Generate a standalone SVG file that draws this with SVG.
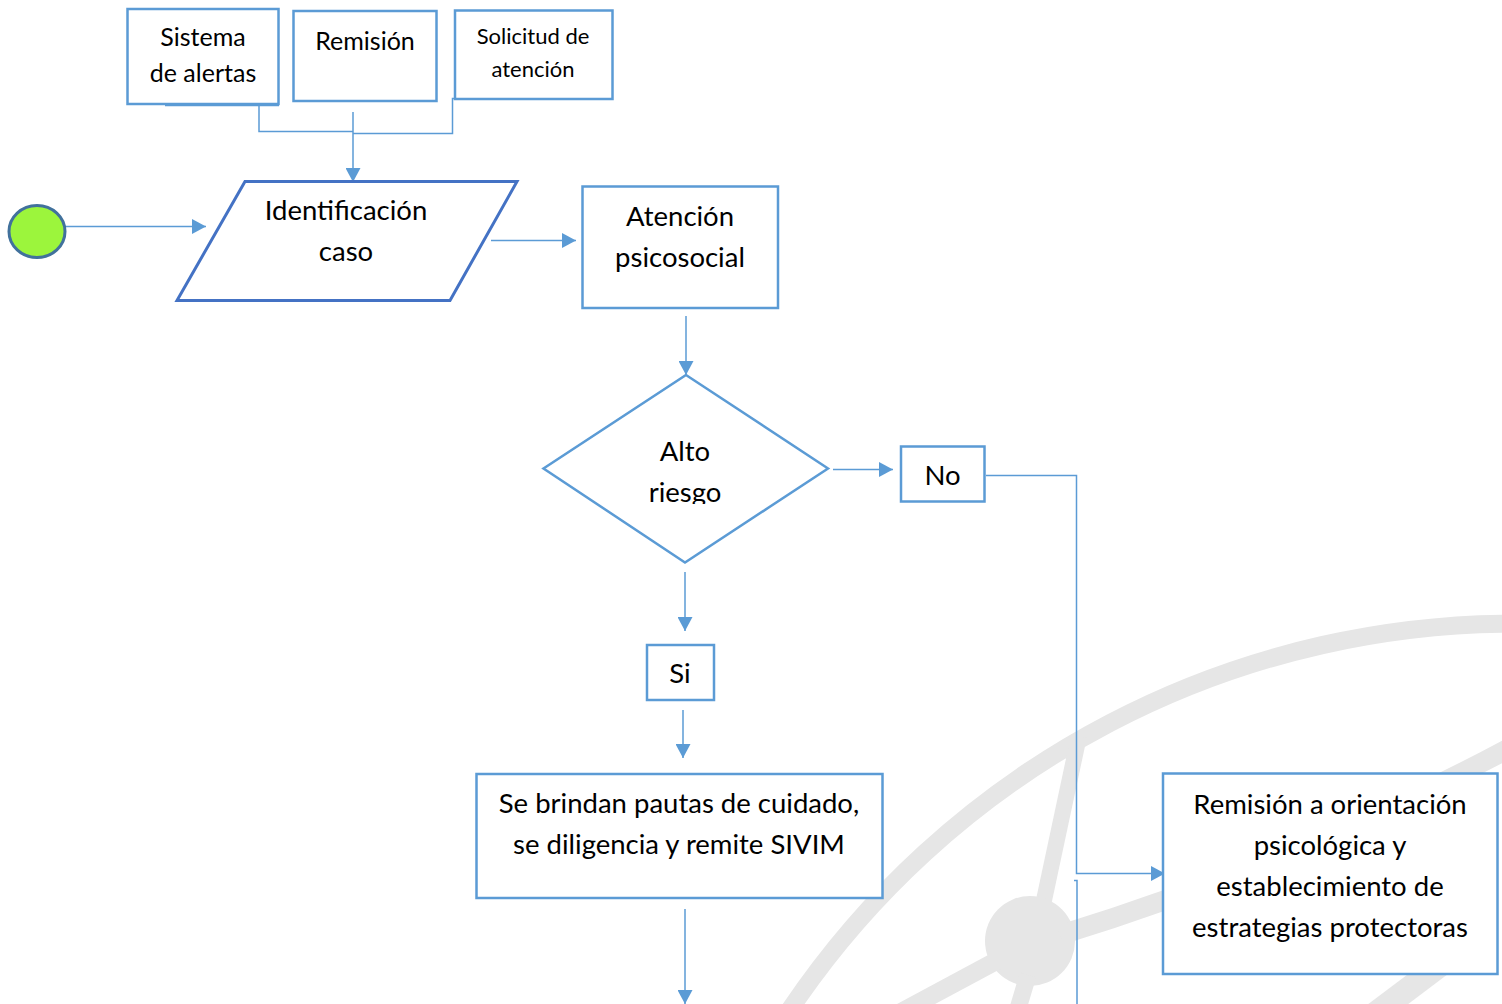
<svg xmlns="http://www.w3.org/2000/svg" width="1502" height="1004" viewBox="0 0 1502 1004">
<style>
.box{fill:#fff;stroke:#5b9bd5;stroke-width:2.5}
.conn{fill:none;stroke:#5b9bd5;stroke-width:1.5}
.wm{fill:none;stroke:#e6e6e6;stroke-linecap:butt}
.t{font-family:Lato,"Liberation Sans",sans-serif;fill:#000;text-anchor:middle}
.s26{font-size:25px}
.s24{font-size:22px}
.s29{font-size:27.5px}
</style>
<defs>
<marker id="ah" markerUnits="userSpaceOnUse" markerWidth="15" markerHeight="15" viewBox="0 0 14 15" refX="14" refY="7.5" orient="auto">
<path d="M0,0 L14,7.5 L0,15 Z" fill="#5b9bd5"/>
</marker>
<clipPath id="dclip"><rect x="540" y="370" width="300" height="134"/></clipPath>
</defs>
<rect x="0" y="0" width="1502" height="1004" fill="#fff"/>
<g id="watermark">
<path class="wm" stroke-width="18" d="M783,1020 A873.5,873.5 0 0 1 1540,624"/>
<line class="wm" stroke-width="16" x1="1079" y1="736" x2="1043" y2="905"/>
<circle cx="1030" cy="941" r="45" fill="#e6e6e6"/>
<path class="wm" stroke-width="20" d="M1060,935 Q1300,861 1515,745"/>
<line class="wm" stroke-width="18" x1="998" y1="960" x2="890" y2="1018"/>
<line class="wm" stroke-width="17" x1="1028" y1="975" x2="1017" y2="1012"/>
<line class="wm" stroke-width="24" x1="1375" y1="1014" x2="1460" y2="950"/>
</g>
<g id="connectors">
<path class="conn" d="M165,105.5 H279"/>
<path class="conn" d="M259,106 V131.5 H353"/>
<path class="conn" d="M553,98.5 H452.5 V133.5 H353"/>
<path class="conn" d="M353,112 V182" marker-end="url(#ah)"/>
<path class="conn" d="M66,226.5 H206" marker-end="url(#ah)"/>
<path class="conn" d="M491,240.5 H576" marker-end="url(#ah)"/>
<path class="conn" d="M686,316 V375" marker-end="url(#ah)"/>
<path class="conn" d="M833,469.5 H893" marker-end="url(#ah)"/>
<path class="conn" d="M986,475.5 H1076.5 V873.5 H1165" marker-end="url(#ah)"/>
<path class="conn" d="M1074,880.5 H1077 V1004"/>
<path class="conn" d="M685,572 V631" marker-end="url(#ah)"/>
<path class="conn" d="M683,710 V758" marker-end="url(#ah)"/>
<path class="conn" d="M685,909 V1004" marker-end="url(#ah)"/>
</g>
<g id="start">
<ellipse cx="37" cy="231.5" rx="28" ry="26" fill="#9cf53c" stroke="#41719c" stroke-width="3"/>
</g>
<g id="sistema">
<rect class="box" x="127.5" y="9" width="151" height="95"/>
<text class="t s26" x="203" y="46">Sistema</text>
<text class="t s26" x="203" y="82">de alertas</text>
</g>
<g id="remision">
<rect class="box" x="293.5" y="11" width="143" height="90"/>
<text class="t s26" x="365" y="50">Remisión</text>
</g>
<g id="solicitud">
<rect class="box" x="455" y="10.5" width="157.5" height="88.5"/>
<text class="t s24" x="533" y="44">Solicitud de</text>
<text class="t s24" x="533" y="77">atención</text>
</g>
<g id="identificacion">
<polygon points="245,181.5 517,181.5 450,300.5 177,300.5" fill="#fff" stroke="#4472c4" stroke-width="3"/>
<text class="t s29" x="346" y="220">Identificación</text>
<text class="t s29" x="346" y="261">caso</text>
</g>
<g id="atencion">
<rect class="box" x="582.5" y="186.5" width="195.5" height="121.5"/>
<text class="t s29" x="680" y="226">Atención</text>
<text class="t s29" x="680" y="267">psicosocial</text>
</g>
<g id="alto-riesgo">
<polygon points="686,375 828,468.5 685,562.5 543.5,468.5" fill="#fff" stroke="#5b9bd5" stroke-width="2.5"/>
<g clip-path="url(#dclip)">
<text class="t s29" x="685" y="461">Alto</text>
<text class="t s29" x="685" y="502">riesgo</text>
</g>
</g>
<g id="no">
<rect class="box" x="901" y="446.5" width="83.5" height="55"/>
<text class="t s29" x="942.5" y="485">No</text>
</g>
<g id="si">
<rect class="box" x="647" y="645" width="67" height="55"/>
<text class="t s29" x="680" y="683">Si</text>
</g>
<g id="pautas">
<rect class="box" x="476.5" y="774" width="406" height="124"/>
<text class="t s29" x="679" y="813">Se brindan pautas de cuidado,</text>
<text class="t s29" x="679" y="854">se diligencia y remite SIVIM</text>
</g>
<g id="orientacion">
<rect class="box" x="1163" y="773.5" width="334.5" height="200.5"/>
<text class="t s29" x="1330" y="814">Remisión a orientación</text>
<text class="t s29" x="1330" y="855">psicológica y</text>
<text class="t s29" x="1330" y="896">establecimiento de</text>
<text class="t s29" x="1330" y="937">estrategias protectoras</text>
</g>
</svg>
